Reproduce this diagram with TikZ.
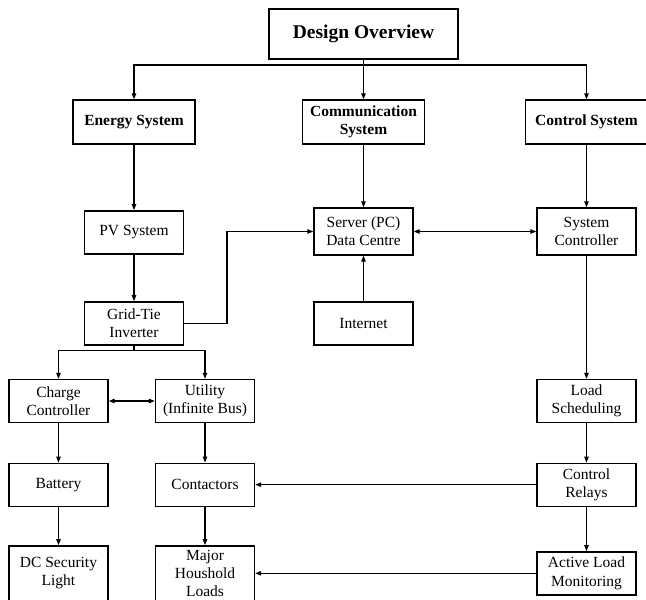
\documentclass[tikz,border=0pt]{standalone}
\usepackage{fontspec}
\setmainfont{Liberation Serif}
\usepackage{tikz}
\usetikzlibrary{arrows.meta}
\tikzstyle{title} = [rectangle, minimum width=189pt, minimum height=50pt, text centered, draw=black, line width=1.4pt, font=\fontsize{19.5}{22}\selectfont\bfseries]
\tikzstyle{head} = [rectangle, minimum width=122pt, minimum height=44pt, align=center, draw=black, line width=1.4pt, font=\fontsize{15.5}{18.3}\selectfont\bfseries]
\tikzstyle{process} = [rectangle, minimum width=99pt, minimum height=43pt, inner sep=2pt, align=center, draw=black, line width=1.4pt, font=\fontsize{15.5}{18.3}\selectfont]
\tikzstyle{arrow} = [line width=1.1pt,->,>={Triangle[length=6pt,width=4.5pt]}]
\tikzstyle{biarrow} = [line width=1.1pt,<->,>={Triangle[length=6pt,width=4.5pt]}]
\tikzstyle{line} = [line width=1.1pt]

\begin{document}
\begin{tikzpicture}[x=1pt, y=-1pt]
\useasboundingbox (0,0) rectangle (646,600);

\node (over) [title] at (363.5,34) {Design Overview};
\node (energy) [head] at (134,122) {Energy System};
\node (comm) [head] at (363.5,122) {Communication\\System};
\node (ctrl) [head] at (586.5,122) {Control System};
\coordinate (split) at (363.5,65);
\draw [arrow] (over.south) -- (comm.north);
\draw [arrow] (split) -| (energy.north);
\draw [arrow] (split) -| (ctrl.north);

% energy side
\node (pv) [process] at (134,232.3) {PV System};
\draw [arrow] (energy) -- (pv);
\node (grid) [process] at (134,323.3) {Grid-Tie\\Inverter};
\draw [arrow] (pv) -- (grid);

\coordinate (branch) at (134,350.7);
\node (charge) [process] at (58.5,401) {Charge\\Controller};
\node (utility) [process] at (205,401) {Utility\\(Infinite Bus)};
\draw [line] (grid.south) -- (branch);
\draw [arrow] (branch) -| (charge.north);
\draw [arrow] (branch) -| (utility.north);
\draw [biarrow] (charge) -- (utility);

\node (battery) [process] at (58.5,484.7) {Battery};
\draw [arrow] (charge) -- (battery);
\node (dclight) [process, minimum height=55pt] at (58.5,573.3) {DC Security\\Light};
\draw [arrow] (battery) -- (dclight);

\node (contact) [process] at (205,484.7) {Contactors};
\draw [arrow] (utility) -- (contact);
\node (major) [process, minimum height=55pt] at (205,573.3) {Major\\Houshold\\Loads};
\draw [arrow] (contact) -- (major);

% communication
\node (server) [process, minimum height=47pt] at (363.5,231.5) {Server (PC)\\Data Centre};
\draw [arrow] (comm) -- (server);
\node (internet) [process] at (363.5,323.3) {Internet};
\draw [arrow] (internet) -- (server);
\coordinate (bend) at (227,323.3);
\draw [arrow] (grid.east) -- (bend) |- (server.west);

% control side
\node (sysctrl) [process, minimum height=47pt] at (586.5,231.5) {System\\Controller};
\draw [arrow] (ctrl) -- (sysctrl);
\draw [biarrow] (server) -- (sysctrl);
\node (sched) [process] at (586.5,401) {Load\\Scheduling};
\draw [arrow] (sysctrl) -- (sched);
\node (relays) [process] at (586.5,484.7) {Control\\Relays};
\draw [arrow] (sched) -- (relays);
\node (monitor) [process] at (586.5,573.3) {Active Load\\Monitoring};
\draw [arrow] (relays) -- (monitor);
\draw [arrow] (relays) -- (contact);
\draw [arrow] (monitor) -- (major);

\end{tikzpicture}
\end{document}
